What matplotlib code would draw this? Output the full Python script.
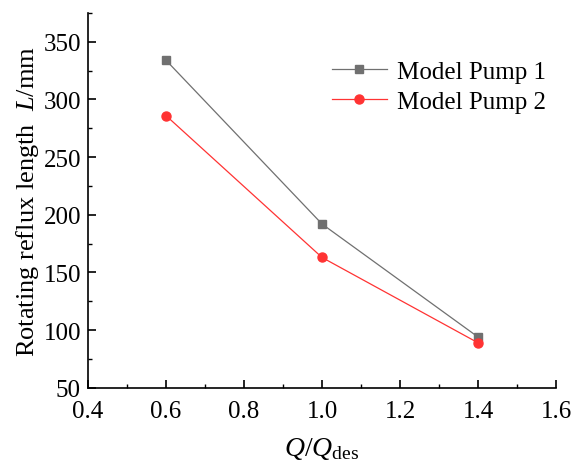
import matplotlib
matplotlib.use("Agg")
import matplotlib.pyplot as plt
from matplotlib.ticker import MultipleLocator

plt.rcParams['font.family'] = ['Liberation Serif', 'DejaVu Serif']
plt.rcParams['mathtext.fontset'] = 'custom'
plt.rcParams['mathtext.rm'] = 'Liberation Serif'
plt.rcParams['mathtext.it'] = 'Liberation Serif:italic'

flow = [0.6, 1.0, 1.4]
pump1 = [334, 192, 94]
pump2 = [286, 163, 89]
labels = ['Model Pump 1', 'Model Pump 2']

fig = plt.figure(figsize=(5.71, 4.64), dpi=100)
ax = fig.add_axes([0.154, 0.162, 0.82, 0.808])

ax.plot(flow, pump1, color='#707070', marker='s', markersize=6, lw=0.9, label=labels[0])
ax.plot(flow, pump2, color='#ff3333', marker='o', markersize=6.5, lw=0.9, label=labels[1])

ax.set_xlim(0.4, 1.6)
ax.set_ylim(50, 375)
ax.xaxis.set_major_locator(MultipleLocator(0.2))
ax.xaxis.set_minor_locator(MultipleLocator(0.1))
ax.yaxis.set_major_locator(MultipleLocator(50))
ax.yaxis.set_minor_locator(MultipleLocator(25))
ax.xaxis.set_major_formatter(plt.FormatStrFormatter('%.1f'))

for s in ['top', 'right']:
    ax.spines[s].set_visible(False)
for s in ['left', 'bottom']:
    ax.spines[s].set_linewidth(1.2)
ax.tick_params(which='major', direction='in', length=5.5, width=1.2, labelsize=18)
ax.tick_params(which='minor', direction='in', length=3, width=1.0)
ax.tick_params(axis='x', which='major', pad=9)
ax.tick_params(axis='y', which='major', pad=5)

ax.set_xlabel(r'$\it{Q}/\it{Q}_{\rm des}$', fontsize=20, labelpad=9)
ax.set_ylabel(r'Rotating reflux length  $\it{L}$/mm', fontsize=19, labelpad=2)

ax.legend(loc='upper right', frameon=False, fontsize=18, handlelength=2.2,
          bbox_to_anchor=(1.015, 0.92), borderaxespad=0.3, labelspacing=0.3,
          handletextpad=0.4)

fig.savefig('out.png', dpi=100)
